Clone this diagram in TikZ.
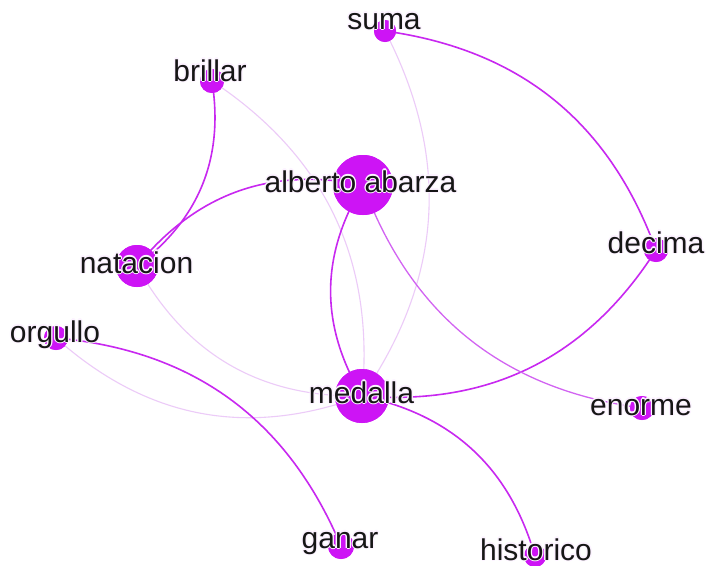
\documentclass[tikz,border=0pt]{standalone}
\usepackage{fontspec}
\setmainfont{Liberation Sans}
\definecolor{nodecol}{RGB}{205,20,245}
\definecolor{edgestrong}{RGB}{200,40,240}
\definecolor{edgemid}{RGB}{210,100,242}
\definecolor{edgefaint}{RGB}{236,203,248}
\definecolor{labelcol}{RGB}{22,22,22}
\definecolor{halocol}{RGB}{252,242,255}
\newcommand\halotxt[1]{%
  \leavevmode
  \rlap{\textcolor{halocol}{\kern1.3pt#1}}%
  \rlap{\textcolor{halocol}{\kern-1.3pt#1}}%
  \rlap{\textcolor{halocol}{\raisebox{1.3pt}{#1}}}%
  \rlap{\textcolor{halocol}{\raisebox{-1.3pt}{#1}}}%
  \rlap{\textcolor{halocol}{\kern0.9pt\raisebox{0.9pt}{#1}}}%
  \rlap{\textcolor{halocol}{\kern-0.9pt\raisebox{0.9pt}{#1}}}%
  \rlap{\textcolor{halocol}{\kern0.9pt\raisebox{-0.9pt}{#1}}}%
  \rlap{\textcolor{halocol}{\kern-0.9pt\raisebox{-0.9pt}{#1}}}%
  \textcolor{labelcol}{#1}}
\tikzset{
  vtx/.style={circle, fill=nodecol, draw=none, inner sep=0pt, minimum size=#1},
  lbl/.style={anchor=base, inner sep=0pt, font=\fontsize{30}{32}\selectfont},
  estrong/.style={draw=edgestrong, line width=1.6pt},
  emid/.style={draw=edgemid, line width=1.3pt},
  efaint/.style={draw=edgefaint, line width=1.1pt},
}
\begin{document}
\begin{tikzpicture}[x=1pt,y=-1pt]
\useasboundingbox[fill=white] (0,0) rectangle (708,565);
% vertices
\node[vtx=22pt] (c-suma) at (385,31) {};
\node[vtx=24pt] (c-bri) at (212,81) {};
\node[vtx=60pt] (c-alb) at (363,185) {};
\node[vtx=42pt] (c-nat) at (137,266) {};
\node[vtx=24pt] (c-dec) at (656,250) {};
\node[vtx=24pt] (c-org) at (56,338) {};
\node[vtx=54pt] (c-med) at (362,396) {};
\node[vtx=24pt] (c-enor) at (642,408) {};
\node[vtx=26pt] (c-gan) at (341,546) {};
\node[vtx=22pt] (c-his) at (535,556) {};
% edges
\path[estrong] (c-suma.center) to[bend left=31] (c-dec.center);
\path[estrong] (c-dec.center) to[bend left=31] (c-med.center);
\path[estrong] (c-alb.center) to[bend right=31] (c-nat.center);
\path[estrong] (c-bri.center) to[bend left=31] (c-nat.center);
\path[efaint] (c-bri.center) to[bend left=31] (c-med.center);
\path[efaint] (c-suma.center) to[bend left=31] (c-med.center);
\path[estrong] (c-alb.center) to[bend right=31] (c-med.center);
\path[emid] (c-alb.center) to[bend right=31] (c-enor.center);
\path[efaint] (c-nat.center) to[bend right=31] (c-med.center);
\path[efaint] (c-org.center) to[bend right=31] (c-med.center);
\path[estrong] (c-org.center) to[bend left=31] (c-gan.center);
\path[estrong] (c-med.center) to[bend left=31] (c-his.center);
% redraw vertices above edges
\foreach \p/\s in {c-suma/22, c-bri/24, c-alb/60, c-nat/42, c-dec/24, c-org/24, c-med/54, c-enor/24, c-gan/26, c-his/22}
  \fill[nodecol] (\p.center) circle[radius=\s/2];
% labels
\node[lbl] (l-suma) at (384,29) {\halotxt{suma}};
\node[lbl] (l-bri) at (210,81) {\halotxt{brillar}};
\node[lbl] (l-alb) at (360.5,192) {\halotxt{alberto abarza}};
\node[lbl] (l-nat) at (136.5,273) {\halotxt{natacion}};
\node[lbl] (l-dec) at (656,253) {\halotxt{decima}};
\node[lbl] (l-org) at (55,342) {\halotxt{orgullo}};
\node[lbl] (l-med) at (361.5,403) {\halotxt{medalla}};
\node[lbl] (l-enor) at (641,415) {\halotxt{enorme}};
\node[lbl] (l-gan) at (340,548) {\halotxt{ganar}};
\node[lbl] (l-his) at (536,560) {\halotxt{historico}};
\end{tikzpicture}
\end{document}
